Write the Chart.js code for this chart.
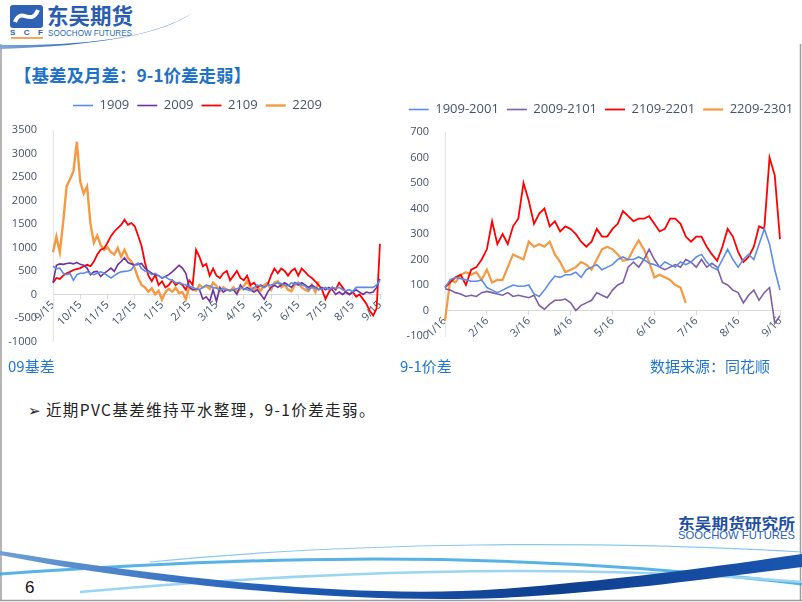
<!DOCTYPE html>
<html>
<head>
<meta charset="utf-8">
<script src="https://cdn.jsdelivr.net/npm/chart.js@4.4.0/dist/chart.umd.min.js"></script>
<style>
html, body { margin: 0; padding: 0; background: #fff; }
body { width: 802px; height: 602px; position: relative; overflow: hidden; font-family: "Noto Sans CJK SC", "Noto Sans", sans-serif; }
#deco { position: absolute; left: 0; top: 0; }
canvas { position: absolute; }
.txt { position: absolute; white-space: nowrap; }
.title { left: 14px; top: 62px; font-size: 17.5px; font-weight: 700; color: #1f72c6; }
.cap { top: 355px; font-size: 15px; color: #1e78d0; }
.bullet { left: 28px; top: 398px; font-size: 15.5px; color: #222; letter-spacing: 1.4px; }
.bullet span { font-family: "DejaVu Sans"; font-size: 15px; margin-right: 4px; }
.page { left: 25px; top: 578px; font-size: 17px; color: #111; font-family: "Liberation Sans", sans-serif; }
</style>
</head>
<body>
<svg id="deco" width="802" height="602">
  <defs>
    <linearGradient id="hdr" x1="0" x2="1" y1="0" y2="0">
      <stop offset="0" stop-color="#7fa9dd"/>
      <stop offset="0.5" stop-color="#1f5fb8"/>
      <stop offset="1" stop-color="#5d95d8"/>
    </linearGradient>
    <linearGradient id="band" x1="0" x2="1" y1="0" y2="0">
      <stop offset="0" stop-color="#6e9fd6"/>
      <stop offset="0.35" stop-color="#1d5bb5"/>
      <stop offset="0.7" stop-color="#0f3f8f"/>
      <stop offset="1" stop-color="#1a56b0"/>
    </linearGradient>
  </defs>
  <!-- slide frame -->
  <line x1="1" y1="44" x2="1" y2="601" stroke="#9c9c9c" stroke-width="1.5"/>
  <line x1="800.5" y1="44" x2="800.5" y2="601" stroke="#9c9c9c" stroke-width="1.5"/>
  <line x1="0" y1="600.5" x2="802" y2="600.5" stroke="#9c9c9c" stroke-width="1.5"/>
  <!-- header logo -->
  <rect x="10" y="5" width="33" height="23" rx="3" fill="#2d62b5"/>
  <path d="M15,22 C21,6 31,27 38,10" stroke="#fff" stroke-width="4" fill="none"/>
  <text x="10" y="35" font-size="8" font-weight="700" fill="#2d62b5" textLength="33" font-family="Liberation Sans">SCF</text>
  <line x1="11" y1="38" x2="43" y2="38" stroke="#f08a24" stroke-width="1.5"/>
  <text x="47" y="24" font-size="22" font-weight="700" fill="#2a5db0" textLength="86" lengthAdjust="spacingAndGlyphs">东吴期货</text>
  <text x="48" y="36" font-size="9" fill="#2a6cc0" textLength="84" lengthAdjust="spacingAndGlyphs" font-family="Liberation Sans">SOOCHOW FUTURES</text>
  <path d="M0,45 Q140,47 192,13 Q150,44 0,49 Z" fill="url(#hdr)"/>
  <!-- footer logo and swooshes -->
  <text x="678" y="529" font-size="15" font-weight="700" fill="#1f4fa0" textLength="117" lengthAdjust="spacingAndGlyphs">东吴期货研究所</text>
  <text x="678" y="539" font-size="11" fill="#2a63b8" textLength="117" lengthAdjust="spacingAndGlyphs" font-family="Liberation Sans">SOOCHOW FUTURES</text>
  <path d="M150,562 C350,542 600,540 802,552" stroke="#8cc8ee" stroke-width="1.2" fill="none"/>
  <path d="M0,574 C200,560 480,545 802,584" stroke="#3aa6e0" stroke-width="3" fill="none" opacity="0.85"/>
  <path d="M80,592 C300,572 560,562 802,582" stroke="#9ad6f2" stroke-width="2.5" fill="none"/>
  <path d="M0,551 C150,575 350,600 500,589 C620,580 720,566 802,554 L802,567 C720,577 620,592 500,598 C350,604 150,585 0,555 Z" fill="url(#band)"/>
</svg>

<div class="txt title">【基差及月差：9-1价差走弱】</div>
<canvas id="leftChart" width="395" height="265" style="left:0;top:91px"></canvas>
<canvas id="rightChart" width="402" height="262" style="left:400px;top:95px"></canvas>
<div class="txt cap" style="left:8px">09基差</div>
<div class="txt cap" style="left:400px">9-1价差</div>
<div class="txt cap" style="left:650px">数据来源：同花顺</div>
<div class="txt bullet"><span>➢</span>近期PVC基差维持平水整理，9-1价差走弱。</div>
<div class="txt page">6</div>

<script>
// 8 readings per month on both charts
const stepsPerMonth = 8;

// left chart: 09 basis, 9/15 to 9/15
const leftTicks = ['9/15', '10/15', '11/15', '12/15', '1/15', '2/15', '3/15', '4/15', '5/15', '6/15', '7/15', '8/15', '9/15'];
const leftNames = ['1909', '2009', '2109', '2209'];
const basis1909 = [600, 550, 560, 450, 420, 450, 300, 420,
  450, 450, 480, 450, 420, 450, 480, 450,
  400, 350, 400, 450, 480, 490, 500, 525,
  630, 670, 550, 500, 480, 420, 450, 400,
  350, 380, 320, 300, 250, 250, 220, 200,
  180, 150, 120, 100, 150, 200, 180, 150,
  130, 100, 120, 100, 80, 100, 120, 150,
  120, 100, 80, 150, 200, 180, 150, 200,
  200, 220, 250, 230, 200, 180, 250, 220,
  250, 200, 180, 100, 150, 130, 100, 120,
  150, 100, 150, 130, 150, 100, 80, 100,
  60, 150, 150, 150, 150, 150, 150, 200,
  300];
const basis2009 = [250, 620, 650, 640, 660, 670, 650, 680,
  640, 620, 560, 420, 480, 490, 380, 450,
  500, 560, 490, 630, 700, 780, 680, 650,
  630, 640, 660, 560, 500, 450, 420, 400,
  350, 380, 420, 480, 550, 620, 560, 450,
  150, 100, 120, 100, -100, -50, -150, 100,
  -150, 150, 50, 100, 80, 100, 0, 200,
  100, 150, 100, 50, 100, 0, -100, 50,
  150, 200, 150, 200, 250, 200, 150, 250,
  200, 250, 200, 150, 200, 150, 100, 150,
  100, 150, 100, 0, 50, 0, 50, 0,
  50, 100, 50, 0, 50, 30, 50, 150,
  330];
const basis2109 = [250, 350, 330, 400, 450, 480, 520, 540,
  560, 600, 630, 600, 700, 850, 950, 980,
  1100, 1240, 1340, 1410, 1480, 1590, 1480, 1520,
  1450, 1250, 1030, 680, 400, 280, 420, 200,
  280, 150, 200, 300, 200, 250, 200, 100,
  300, 200, 950, 800, 600, 650, 400, 550,
  400, 350, 450, 500, 300, 400, 500, 350,
  300, 400, 200, 250, 150, 200, 150, 200,
  400, 550, 450, 550, 500, 400, 500, 550,
  400, 550, 480, 400, 350, 280, 200, 100,
  -100, 50, 150, 100, 250, 150, 50, 0,
  50, -50, 0, -100, -200, -350, -450, -300,
  1080];
const basis2209 = [900, 1230, 900, 1550, 2300, 2450, 2620, 3250,
  2400, 2150, 2300, 1500, 1100, 1250, 1050, 950,
  1000, 900, 850, 990, 800, 950, 780, 700,
  560, 350, 200, 150, 60, 130, 0, 80,
  -110, 50, 120, 60, 140, 30, 50, -100,
  150, 100, 80, 200, 150, 180, 120, 250,
  180, 70, 150, 100, 80, 150, 50, 120,
  180, 280, 150, 100, 150, 80, 200, 250,
  100, 250, 280, 150, 200, 100, 70, 200,
  250, 150, 100, 70, 200, 50, 280];

// right chart: 9-1 spread, 1/16 to 9/16
const rightTicks = ['1/16', '2/16', '3/16', '4/16', '5/16', '6/16', '7/16', '8/16', '9/16'];
const rightNames = ['1909-2001', '2009-2101', '2109-2201', '2209-2301'];
const spread1909 = [90, 120, 130, 125, 120, 115, 115, 120,
  90, 80, 70, 80, 90, 100, 95, 95,
  100, 65, 55, 80, 110, 135, 130, 140,
  140, 150, 130, 160, 170, 180, 160, 170,
  180, 200, 210, 200, 200, 210, 200, 185,
  180, 170, 190, 180, 170, 190, 180, 190,
  210, 220, 190, 170, 160, 200, 240, 200,
  170, 200, 220, 200, 260, 320, 260, 160,
  80];
const spread2009 = [85, 80, 70, 65, 55, 60, 55, 70,
  75, 70, 65, 60, 70, 55, 60, 55,
  50, 60, 20, 5, 25, 40, 40, 45,
  30, 0, 20, 30, 40, 70, 60, 50,
  80, 100, 110, 170, 190, 170, 200, 240,
  200, 170, 160, 170, 180, 170, 200, 190,
  170, 200, 170, 185, 170, 110, 100, 80,
  70, 30, 60, 80, 40, 70, 90, -50,
  -20];
const spread2109 = [90, 110, 130, 140, 100, 160, 170, 200,
  240, 350, 260, 300, 260, 330, 360, 500,
  430, 340, 380, 400, 330, 350, 310, 330,
  320, 300, 270, 250, 270, 320, 290, 290,
  320, 340, 390, 370, 350, 360, 360, 370,
  340, 310, 320, 360, 360, 340, 290, 270,
  290, 290, 250, 220, 195, 250, 320, 290,
  230, 190, 210, 250, 330, 320, 600, 530,
  280];
const spread2209 = [-40, 120, 110, 140, 150, 140, 150, 120,
  160, 110, 120, 120, 170, 220, 210, 200,
  270, 250, 260, 250, 270, 220, 190, 150,
  160, 170, 190, 180, 160, 200, 240, 250,
  240, 220, 195, 200, 240, 275, 240, 190,
  130, 140, 130, 120, 100, 90, 30];

const textColor = '#44546a';
const axisColor = '#d9d9d9';

// makes room between legend and plot
function legendGap(gap) {
  return {
    id: 'legendGap',
    beforeInit(chart) {
      const fit = chart.legend.fit;
      chart.legend.fit = function () {
        fit.bind(chart.legend)();
        this.height += gap;
      };
    }
  };
}

function drawChart(canvasId, ticks, names, series, colors, widths, yMin, yMax, yStep, yWidth, rightWidth, gap, padBottom) {
  const labels = [];
  for (let i = 0; i <= (ticks.length - 1) * stepsPerMonth; i++) {
    labels.push(i % stepsPerMonth === 0 ? ticks[i / stepsPerMonth] : '');
  }

  const datasets = names.map((name, k) => ({
    label: name,
    data: series[k],
    borderColor: colors[k],
    backgroundColor: colors[k],
    borderWidth: widths[k],
    pointRadius: 0,
    tension: 0,
    fill: false
  }));

  return new Chart(document.getElementById(canvasId), {
    type: 'line',
    data: { labels: labels, datasets: datasets },
    plugins: [legendGap(gap)],
    options: {
      responsive: false,
      animation: false,
      devicePixelRatio: 1,
      layout: { padding: { top: 0, left: 0, right: 0, bottom: padBottom } },
      plugins: {
        tooltip: { enabled: false },
        legend: {
          position: 'top',
          labels: {
            usePointStyle: true,
            pointStyle: 'line',
            pointStyleWidth: 20,
            color: textColor,
            padding: 8,
            font: { family: 'Open Sans', size: 13 }
          }
        }
      },
      scales: {
        x: {
          type: 'category',
          position: { y: 0 },
          border: { display: true, color: axisColor },
          grid: { display: true, drawOnChartArea: false, drawTicks: true, tickLength: 4, color: axisColor },
          ticks: {
            autoSkip: false,
            maxRotation: 45,
            minRotation: 45,
            padding: 0,
            color: textColor,
            font: { family: 'Open Sans', size: 11 },
            callback: function (value, index) {
              return index % stepsPerMonth === 0 ? ticks[index / stepsPerMonth] : null;
            }
          }
        },
        y: {
          min: yMin,
          max: yMax,
          border: { display: true, color: '#e6e6e6' },
          grid: { display: false },
          ticks: {
            stepSize: yStep,
            color: textColor,
            padding: 8,
            font: { family: 'Open Sans', size: 11 },
            callback: function (value) { return String(value); }
          },
          afterFit: function (scale) { scale.width = yWidth; }
        },
        spare: {
          position: 'right',
          grid: { display: false },
          border: { display: false },
          ticks: { display: false },
          afterFit: function (scale) { scale.width = rightWidth; }
        }
      }
    }
  });
}

drawChart('leftChart', leftTicks, leftNames,
  [basis1909, basis2009, basis2109, basis2209],
  ['#5b8ce6', '#7030a0', '#ff0000', '#f59a42'],
  [1.6, 1.6, 1.8, 2.4],
  -1000, 3500, 500, 53, 15, 8, 7);

drawChart('rightChart', rightTicks, rightNames,
  [spread1909, spread2009, spread2109, spread2209],
  ['#5b8ce6', '#7e5ea8', '#ff0000', '#f59a42'],
  [1.6, 1.6, 1.8, 2.2],
  -100, 700, 100, 45, 22, 6, 21);
</script>
</body>
</html>
